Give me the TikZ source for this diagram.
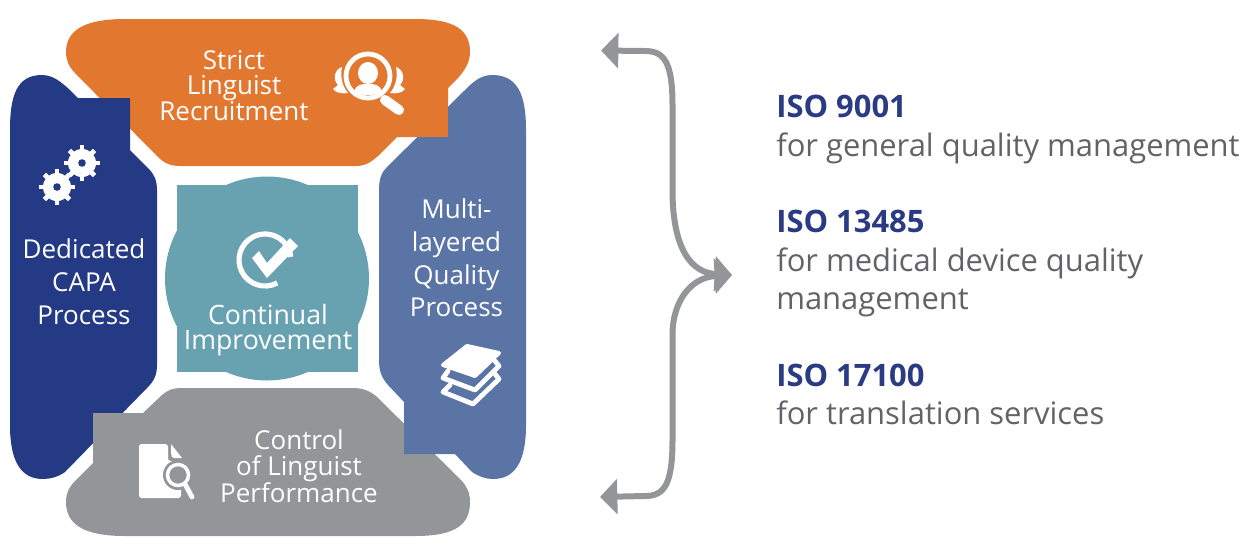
\documentclass[tikz,border=0pt]{standalone}
\usepackage{fontspec}
\setmainfont{Open Sans}
\usetikzlibrary{arrows.meta, positioning}
\definecolor{pieorange}{HTML}{E27830}
\definecolor{pienavy}{HTML}{243A84}
\definecolor{pieslate}{HTML}{5B74A6}
\definecolor{pieteal}{HTML}{68A1B0}
\definecolor{piegrey}{HTML}{939598}
\definecolor{isoblue}{HTML}{2A3B84}
\definecolor{isotext}{HTML}{626366}
\tikzset{
  petal/.style={align=center, text=white, font=\fontsize{19.5}{19}\selectfont, inner sep=0pt},
  isoname/.style={anchor=base west, inner sep=0pt, text=isoblue, font=\fontsize{23.2}{27}\selectfont\bfseries},
  isoline/.style={anchor=base west, inner sep=0pt, text=isotext, font=\fontsize{23.2}{27}\selectfont},
  bracearrow/.style={draw=piegrey, line width=4.5pt, {Triangle[length=13pt, width=26pt]}-{Triangle[length=13pt, width=26pt]}},
  iconline/.style={draw=white, line cap=round, line join=round},
}
\begin{document}
\begin{tikzpicture}[x=0.75pt, y=-0.75pt]
  \useasboundingbox (0,0) rectangle (1241,537);

  % four petals
  \fill[pieorange] (66,52) .. controls (66,30) and (85,19) .. (125,19) -- (415,19) .. controls (455,19) and (470,30) .. (470,52)
    .. controls (470,65) and (462,75) .. (448,88) -- (448,137) -- (397,137) -- (378,156) .. controls (370,163) and (365,166) .. (355,166)
    -- (180,166) .. controls (170,166) and (164,163) .. (157,156) -- (75,73) .. controls (69,67) and (66,60) .. (66,52) -- cycle;
  \fill[pienavy] (10,130) .. controls (10,95) and (17,75) .. (42,75) .. controls (55,75) and (65,85) .. (78,98) -- (130,98) -- (130,150)
    -- (148,168) .. controls (154,174) and (157,180) .. (157,190) -- (157,365) .. controls (157,375) and (154,381) .. (147,388)
    -- (65,472) .. controls (58,477) and (50,479) .. (43,479) .. controls (20,479) and (10,460) .. (10,425) -- cycle;
  \fill[piegrey] (66,502) .. controls (66,492) and (70,486) .. (76,480) -- (93,463) -- (93,413) -- (143,413) -- (162,395)
    .. controls (168,390) and (172,388) .. (183,388) -- (352,388) .. controls (362,388) and (368,390) .. (376,396) -- (462,481)
    .. controls (467,487) and (470,493) .. (470,502) .. controls (470,525) and (455,536) .. (415,536) -- (125,536)
    .. controls (85,536) and (66,525) .. (66,502) -- cycle;
  \fill[pieslate] (526,130) .. controls (526,95) and (518,75) .. (492,75) .. controls (480,75) and (472,83) .. (465,90) -- (387,167)
    .. controls (382,172) and (379,178) .. (379,190) -- (379,360) .. controls (379,372) and (382,378) .. (388,385) -- (404,402)
    -- (404,454) -- (455,454) -- (472,472) .. controls (480,477) and (486,479) .. (493,479) .. controls (516,479) and (526,460) .. (526,425) -- cycle;
  \fill[pieorange] (400,100) rectangle (448,137);

  % centre
  \fill[pieteal] (267,278.5) circle[radius=102];
  \fill[pieteal] (177,185) rectangle (358,372);

  % gears
  \foreach \gx/\gy in {82/163, 57/187} {
    \fill[white] (\gx,\gy) circle[radius=14];
    \foreach \ang in {0,45,...,315}
      \draw[white, line width=3.6pt] (\gx,\gy) ++(\ang+90:11) -- ++(\ang+90:6.7);
    \fill[pienavy] (\gx,\gy) circle[radius=3.8];
  }

  % recruitment lens
  \draw[white, line width=3.6pt] (368,76) circle[radius=22];
  \fill[white] (368,73) ellipse[x radius=10, y radius=11];
  \fill[white] (354,92) .. controls (356,84) and (362,84) .. (368,84) .. controls (374,84) and (380,84) .. (382,92) .. controls (375,96) and (361,96) .. (354,92) -- cycle;
  \draw[iconline, line width=7.5pt] (385,100) -- (399,110);
  \fill[white] (342,67) .. controls (335,69) and (332,79) .. (338,85) -- (333,89) .. controls (336,93) and (342,94) .. (348,93) .. controls (342,86) and (340,76) .. (342,67) -- cycle;
  \fill[white] (396,67) .. controls (403,69) and (406,79) .. (400,85) -- (405,89) .. controls (402,93) and (396,94) .. (390,93) .. controls (396,86) and (398,76) .. (396,67) -- cycle;

  % check mark
  \draw[white, line width=3.9pt] (265,260) ++(62:26) arc[start angle=62, end angle=353, radius=26];
  \fill[white] (252,258) -- (259,251) -- (267,263) -- (290,238) -- (298,246) -- (267,278) -- cycle;

  % layers
  \fill[white, draw=white, line width=3pt, line join=round] (467,346) -- (499,353) -- (475,376) -- (443,365) -- cycle;
  \draw[iconline, line width=3.6pt] (448,371) -- (443,378) -- (475,390) -- (499,366) -- (495,361);
  \draw[iconline, line width=3.6pt] (450,385) -- (443,392) -- (473,404) -- (499,379) -- (495,374);

  % document
  \fill[white, rounded corners=2pt] (139,444) -- (168,444) -- (168,461) -- (181,461) -- (181,498) -- (139,498) -- cycle;
  \fill[white] (171,444) -- (182,458) -- (174,458) .. controls (172,458) and (171,456) .. (171,453) -- cycle;
  \fill[piegrey] (178,475) circle[radius=15];
  \draw[white, line width=2.6pt] (178,475) circle[radius=10.5];
  \draw[iconline, line width=3.6pt] (185,484) -- (192,497);

  % labels
  \node[petal] (strict) at (234,85.5) {Strict\\Linguist\\Recruitment};
  \node[petal, font=\fontsize{19.5}{24.6}\selectfont] (capa) at (84,281.5) {Dedicated\\CAPA\\Process};
  \node[petal, font=\fontsize{19.5}{24.6}\selectfont] (multi) at (456.5,258) {Multi-\\layered\\Quality\\Process};
  \node[petal, font=\fontsize{20}{19}\selectfont] (continual) at (268,330) {Continual\\Improvement};
  \node[petal] (control) at (299,466.5) {Control\\of Linguist\\Performance};

  % standards
  \node[isoname] (isoa) at (776,117) {ISO 9001};
  \node[isoline] (isoatext) at (776,156) {for general quality management};
  \node[isoname] (isob) at (776,232) {ISO 13485};
  \node[isoline] (isobtext) at (776,271) {for medical device quality};
  \node[isoline] (isobmore) at (776,309) {management};
  \node[isoname] (isoc) at (776,386) {ISO 17100};
  \node[isoline] (isoctext) at (776,424) {for translation services};

  % brace
  \coordinate (topend) at (601,50.5);
  \coordinate (hub) at (732,275);
  \coordinate (bottomend) at (600,497);
  \draw[bracearrow] (topend) -- (645,51) .. controls (664,51) and (672.5,62) .. (672.5,105) -- (672.5,190)
    .. controls (672.5,250) and (692,273) .. (716,274) -- (hub);
  \draw[bracearrow] (bottomend) -- (645,496) .. controls (664,496) and (672.5,485) .. (672.5,440) -- (672.5,335)
    .. controls (672.5,300) and (692,277) .. (716,276) -- (hub);
\end{tikzpicture}
\end{document}
